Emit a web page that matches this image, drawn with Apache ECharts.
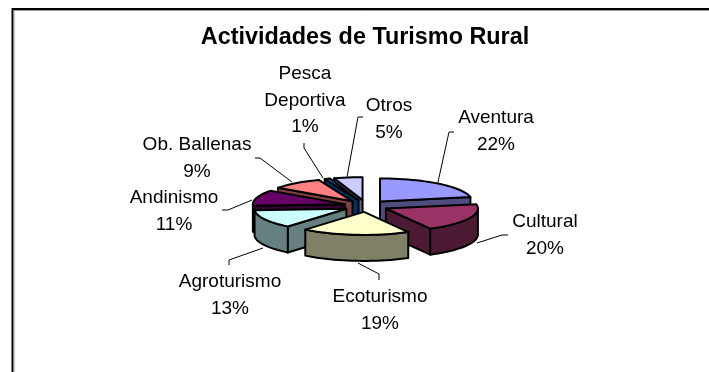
<!DOCTYPE html>
<html><head><meta charset="utf-8">
<style>html,body{margin:0;padding:0;background:#fff}#c{width:709px;height:372px}</style>
<script src="https://cdn.jsdelivr.net/npm/echarts@6/dist/echarts.min.js"></script>
</head><body><div id="c"></div>
<script>
const titleText = 'Actividades de Turismo Rural';
const categories = ['Aventura','Cultural','Ecoturismo','Agroturismo','Andinismo','Ob. Ballenas','Pesca\nDeportiva','Otros'];
const values = [22,20,19,13,11,9,1,5];
const topColors = ['#9999FF','#993366','#FFFFCC','#CCFFFF','#660066','#FF8080','#0066CC','#CCCCFF'];
const sideColors = ['#4D4D80','#4D1A33','#808066','#668080','#330033','#804040','#003366','#666680'];
// back-to-front painting order (index into categories)
const paintOrder = [7,6,5,4,0,3,1,2];
// label centre (first line) and leader polyline, in page pixels
const labelPos = [[496,118],[545,222],[380,297],[230,282],[174,198],[197,145],[305,74],[389,106]];
const leaders = [
 [[454,132],[449,132],[438,182]],
 [[508,235],[502,235],[477,243]],
 [[379,280],[379,274],[358,263]],
 [[229,265],[229,260],[263,248]],
 [[222,210],[228,210],[252,200]],
 [[255,158],[260,158],[292,182]],
 [[304,143],[304,148],[323,178]],
 [[363,117],[358,117],[347,177]]
];
const cx=366, cy=206, rx=92, ry=23, explode=22, depth=26, lineH=26.5, fontPx=19;

const total = values.reduce((a,b)=>a+b,0);
const rad = d => d*Math.PI/180;
let acc=0;
const spans = values.map(v=>{const a=acc; acc+=v/total*360; return [a,acc];});

function renderItem(params){
  const i=params.dataIndex;
  const [a,b]=spans[i];
  const m=(a+b)/2;
  const ax=cx+explode*Math.sin(rad(m));
  const ay=cy-explode*0.27*Math.cos(rad(m));
  const rim=d=>[ax+rx*Math.sin(rad(d)), ay-ry*Math.cos(rad(d))];
  const arc=(s,e)=>{const p=[];const n=Math.max(2,Math.ceil((e-s)/3));for(let k=0;k<=n;k++)p.push(rim(s+(e-s)*k/n));return p;};
  const down=p=>[p[0],p[1]+depth];
  const z=paintOrder.indexOf(i)*10;
  const st={stroke:'#000',lineWidth:2,lineJoin:'round'};
  const kids=[];
  const poly=(pts,fill,zz)=>kids.push({type:'polygon',z2:zz,shape:{points:pts},style:Object.assign({fill},st)});
  const A=[ax,ay];
  if(Math.sin(rad(a))<0){const P=rim(a);poly([A,P,down(P),down(A)],sideColors[i],z+1);}
  if(Math.sin(rad(b))>0){const P=rim(b);poly([A,P,down(P),down(A)],sideColors[i],z+1);}
  const s=Math.max(a,90), e=Math.min(b,270);
  if(e>s){const t=arc(s,e);poly(t.concat(t.slice().reverse().map(down)),sideColors[i],z+2);}
  poly([A].concat(arc(a,b)),topColors[i],z+3);
  kids.push({type:'polyline',z2:1000,shape:{points:leaders[i]},style:{stroke:'#000',lineWidth:1,fill:null}});
  const [lx,ly]=labelPos[i];
  kids.push({type:'text',z2:1001,x:lx,y:ly-lineH/2,style:{text:categories[i]+'\n'+values[i]+'%',align:'center',verticalAlign:'top',
    font:fontPx+'px "Liberation Sans"',lineHeight:lineH,fill:'#000'}});
  return {type:'group',children:kids};
}

const chart=echarts.init(document.getElementById('c'),null,{renderer:'canvas'});
chart.setOption({
  animation:false,
  backgroundColor:'#fff',
  title:{text:titleText,left:365,top:21,textAlign:'center',textStyle:{fontFamily:'Liberation Sans',fontWeight:'bold',fontSize:23.4,color:'#000'},padding:[5,10,5,0]},
  graphic:[{type:'polyline',z:0,shape:{points:[[12.5,372],[12.5,9],[709,9]]},style:{stroke:'#000',lineWidth:2,fill:null}},
           {type:'polyline',z:0,shape:{points:[[14,372],[14,10.5],[709,10.5]]},style:{stroke:'#999',lineWidth:1,fill:null}}],
  series:[{type:'custom',coordinateSystem:'none',renderItem,data:values}]
});
</script></body></html>
